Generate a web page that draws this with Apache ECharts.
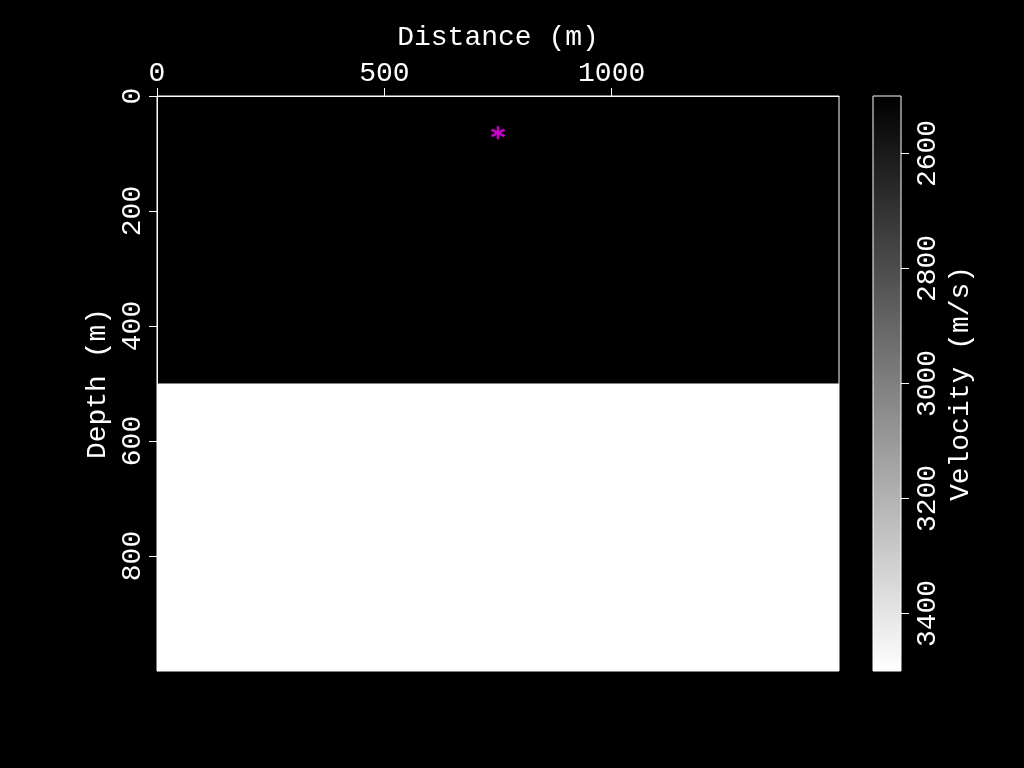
<!DOCTYPE html>
<html lang="en">
<head>
<meta charset="UTF-8">
<title>Velocity model</title>
<script src="https://cdn.jsdelivr.net/npm/echarts@6/dist/echarts.min.js"></script>
<style>
    html, body { margin: 0; background: #000; }
    #chart { width: 1024px; height: 768px; }
</style>
</head>
<body>
<div id="chart"></div>
<script>
// model layers: x range, depth range, velocity
var layerX0 = [0, 0];
var layerX1 = [1500, 1500];
var layerTop = [0, 500];
var layerBottom = [500, 1000];
var layerVelocity = [2500, 3500];

// source position
var sourceX = [750];
var sourceZ = [64];

// tick labels
var distanceTicks = [0, 500, 1000];
var depthTicks = [0, 200, 400, 600, 800];
var velocityTicks = [2600, 2800, 3000, 3200, 3400];
var velocityRange = [2500, 3500];

var FONT = 'Liberation Mono';
var txt = { color: '#fff', fontSize: 28, fontFamily: FONT };
var white = { color: '#fff', width: 1 };
var plain = function (v) { return String(v); };

var layers = layerX0.map(function (x0, i) {
    return [x0, layerX1[i], layerTop[i], layerBottom[i], layerVelocity[i]];
});
var source = sourceX.map(function (x, i) { return [x, sourceZ[i]]; });

var chart = echarts.init(document.getElementById('chart'));

chart.setOption({
    backgroundColor: '#000',
    animation: false,
    grid: [
        { left: 157, top: 96, width: 682, height: 575, show: true, z: 5,
          backgroundColor: 'transparent', borderColor: '#fff', borderWidth: 1 },
        { left: 873, top: 96, width: 28, height: 575, show: true, z: 5,
          backgroundColor: 'transparent', borderColor: '#fff', borderWidth: 1 }
    ],
    visualMap: {
        show: false,
        type: 'continuous',
        min: velocityRange[0],
        max: velocityRange[1],
        dimension: 4,
        seriesIndex: 0,
        inRange: { color: ['#000', '#fff'] }
    },
    xAxis: [{
        gridIndex: 0, type: 'value', position: 'top', min: 0, max: 1500, z: 5,
        name: 'Distance (m)', nameLocation: 'middle', nameGap: 44, nameTextStyle: txt,
        axisLine: { show: true, onZero: false, lineStyle: white },
        axisTick: { show: true, length: 8, customValues: distanceTicks, lineStyle: white },
        axisLabel: Object.assign({ customValues: distanceTicks, margin: 8, formatter: plain }, txt),
        splitLine: { show: false }
    }, {
        gridIndex: 1, type: 'value', min: 0, max: 1, show: false
    }],
    yAxis: [{
        gridIndex: 0, type: 'value', inverse: true, min: 0, max: 1000, z: 5,
        name: 'Depth (m)', nameLocation: 'middle', nameGap: 45, nameTextStyle: txt,
        axisLine: { show: true, onZero: false, lineStyle: white },
        axisTick: { show: true, length: 8, customValues: depthTicks, lineStyle: white },
        axisLabel: Object.assign({ customValues: depthTicks, rotate: 90, margin: 10, formatter: plain }, txt),
        splitLine: { show: false }
    }, {
        gridIndex: 1, type: 'value', position: 'right', inverse: true, z: 5,
        min: velocityRange[0], max: velocityRange[1],
        name: 'Velocity (m/s)', nameLocation: 'middle', nameGap: 46, nameTextStyle: txt,
        axisLine: { show: false, onZero: false },
        axisTick: { show: true, length: 8, customValues: velocityTicks, lineStyle: white },
        axisLabel: Object.assign({ customValues: velocityTicks, rotate: 90, margin: 13, formatter: plain }, txt),
        splitLine: { show: false }
    }],
    series: [{
        type: 'custom',
        xAxisIndex: 0, yAxisIndex: 0,
        clip: true,
        data: layers,
        encode: { x: [0, 1], y: [2, 3] },
        renderItem: function (params, api) {
            var p0 = api.coord([api.value(0), api.value(2)]);
            var p1 = api.coord([api.value(1), api.value(3)]);
            return {
                type: 'rect',
                shape: { x: p0[0], y: p0[1], width: p1[0] - p0[0], height: p1[1] - p0[1] },
                style: { fill: api.visual('color') }
            };
        }
    }, {
        type: 'scatter',
        xAxisIndex: 0, yAxisIndex: 0,
        data: source,
        symbol: 'path://M0,-10L0,10M-8.66,-5L8.66,5M-8.66,5L8.66,-5',
        symbolSize: 13,
        itemStyle: { color: 'rgba(0,0,0,0)', borderColor: '#ff00ff', borderWidth: 2.5 },
        z: 6
    }, {
        // colour bar
        type: 'custom',
        xAxisIndex: 1, yAxisIndex: 1,
        data: [[0, 1, velocityRange[0], velocityRange[1]]],
        encode: { x: [0, 1], y: [2, 3] },
        renderItem: function (params, api) {
            var p0 = api.coord([api.value(0), api.value(2)]);
            var p1 = api.coord([api.value(1), api.value(3)]);
            return {
                type: 'rect',
                shape: { x: p0[0], y: p0[1], width: p1[0] - p0[0], height: p1[1] - p0[1] },
                style: {
                    fill: new echarts.graphic.LinearGradient(0, 0, 0, 1, [
                        { offset: 0, color: '#000' },
                        { offset: 1, color: '#fff' }
                    ])
                }
            };
        }
    }]
});
</script>
</body>
</html>
